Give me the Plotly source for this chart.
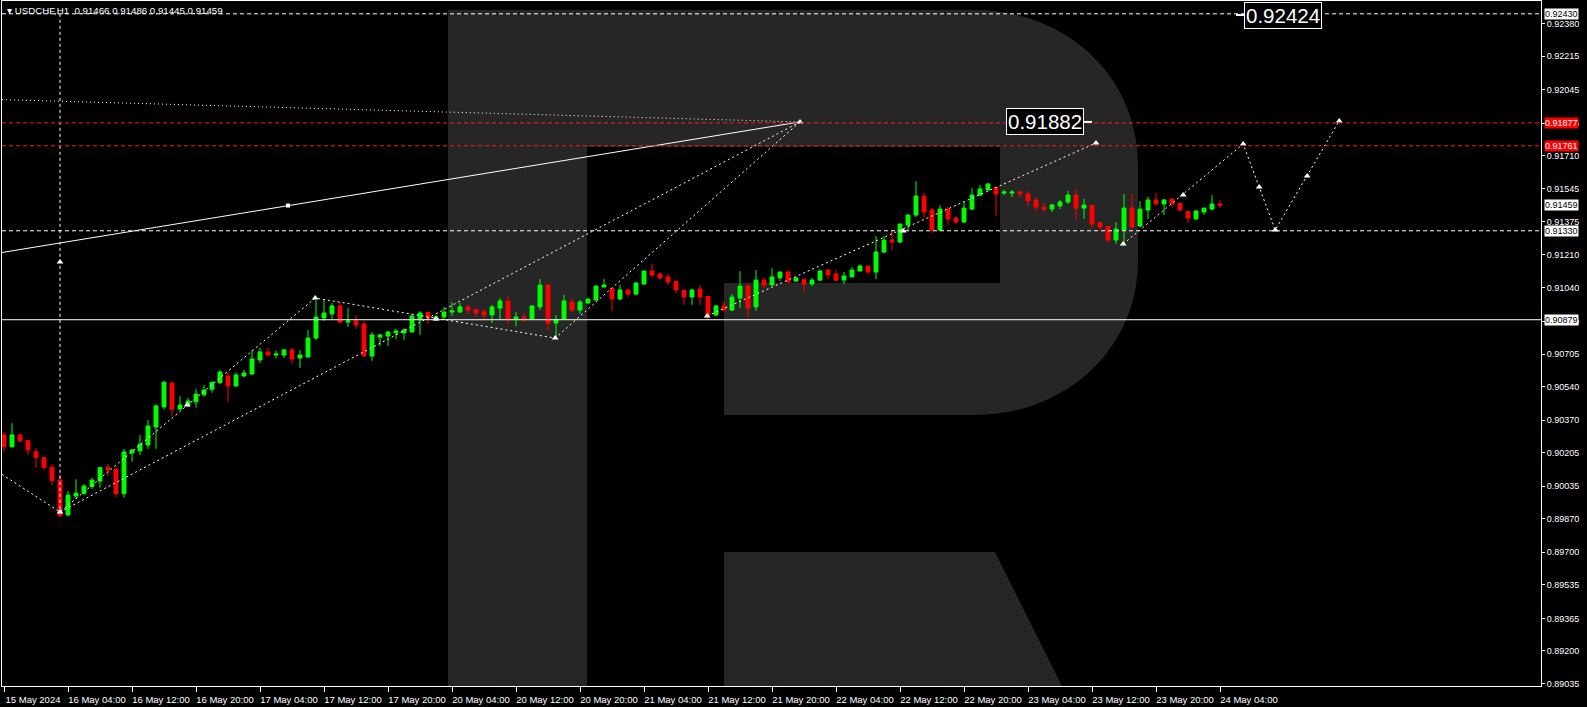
import plotly.graph_objects as go

# ---------------- data (USDCHF H1) ----------------
opens = [0.90295, 0.90235, 0.90295, 0.90266, 0.90210, 0.90180, 0.90131, 0.90066, 0.89889, 0.89985,
         0.89997, 0.90033, 0.90061, 0.90129, 0.90122, 0.89997, 0.90203, 0.90214, 0.90244, 0.90335,
         0.90437, 0.90557, 0.90426, 0.90443, 0.90463, 0.90499, 0.90526, 0.90560, 0.90594, 0.90543,
         0.90594, 0.90604, 0.90675, 0.90716, 0.90700, 0.90700, 0.90726, 0.90685, 0.90690, 0.90786,
         0.90888, 0.90908, 0.90949, 0.90867, 0.90873, 0.90857, 0.90695, 0.90791, 0.90796, 0.90812,
         0.90812, 0.90817, 0.90878, 0.90916, 0.90878, 0.90893, 0.90918, 0.90918, 0.90944, 0.90931,
         0.90920, 0.90903, 0.90938, 0.90974, 0.90883, 0.90893, 0.90883, 0.90944, 0.91055, 0.90862,
         0.90883, 0.90969, 0.90928, 0.90964, 0.90979, 0.91045, 0.91038, 0.90984, 0.91030, 0.91009,
         0.91060, 0.91126, 0.91111, 0.91096, 0.91073, 0.91028, 0.90994, 0.91035, 0.90997, 0.90903,
         0.90949, 0.90928, 0.90989, 0.91050, 0.90944, 0.91080, 0.91055, 0.91091, 0.91121, 0.91075,
         0.91083, 0.91060, 0.91080, 0.91131, 0.91111, 0.91080, 0.91096, 0.91126, 0.91151, 0.91121,
         0.91222, 0.91283, 0.91273, 0.91359, 0.91410, 0.91506, 0.91435, 0.91334, 0.91440, 0.91395,
         0.91374, 0.91440, 0.91511, 0.91537, 0.91550, 0.91521, 0.91521, 0.91527, 0.91516, 0.91486,
         0.91450, 0.91440, 0.91456, 0.91476, 0.91511, 0.91445, 0.91459, 0.91372, 0.91352, 0.91283,
         0.91334, 0.91445, 0.91354, 0.91435, 0.91486, 0.91466, 0.91491, 0.91469, 0.91428, 0.91390,
         0.91425, 0.91440, 0.91466]
highs = [0.90311, 0.90354, 0.90300, 0.90269, 0.90227, 0.90182, 0.90146, 0.90097, 0.90011, 0.90070,
         0.90046, 0.90078, 0.90132, 0.90148, 0.90124, 0.90224, 0.90221, 0.90295, 0.90371, 0.90450,
         0.90568, 0.90568, 0.90492, 0.90482, 0.90528, 0.90548, 0.90565, 0.90624, 0.90614, 0.90611,
         0.90624, 0.90726, 0.90736, 0.90736, 0.90721, 0.90731, 0.90736, 0.90726, 0.90827, 0.90979,
         0.90979, 0.90964, 0.90969, 0.90938, 0.90903, 0.90873, 0.90817, 0.90807, 0.90822, 0.90832,
         0.90837, 0.90908, 0.90923, 0.90918, 0.90903, 0.90944, 0.90969, 0.90964, 0.90954, 0.90933,
         0.90933, 0.90954, 0.90989, 0.90999, 0.90918, 0.90913, 0.90951, 0.91085, 0.91058, 0.90903,
         0.91004, 0.90989, 0.90979, 0.90986, 0.91052, 0.91085, 0.91040, 0.91055, 0.91035, 0.91070,
         0.91128, 0.91161, 0.91116, 0.91111, 0.91075, 0.91030, 0.91035, 0.91055, 0.90999, 0.90954,
         0.90974, 0.91009, 0.91126, 0.91065, 0.91131, 0.91091, 0.91141, 0.91123, 0.91131, 0.91096,
         0.91085, 0.91091, 0.91131, 0.91136, 0.91131, 0.91121, 0.91146, 0.91161, 0.91153, 0.91303,
         0.91303, 0.91334, 0.91366, 0.91412, 0.91582, 0.91521, 0.91445, 0.91461, 0.91450, 0.91405,
         0.91476, 0.91547, 0.91562, 0.91572, 0.91552, 0.91537, 0.91537, 0.91532, 0.91532, 0.91501,
         0.91471, 0.91466, 0.91486, 0.91532, 0.91542, 0.91491, 0.91461, 0.91374, 0.91354, 0.91374,
         0.91516, 0.91516, 0.91481, 0.91501, 0.91521, 0.91491, 0.91496, 0.91471, 0.91430, 0.91435,
         0.91447, 0.91511, 0.91486]
lows = [0.90210, 0.90230, 0.90255, 0.90193, 0.90129, 0.90121, 0.90041, 0.89880, 0.89886, 0.89969,
        0.89995, 0.90021, 0.90027, 0.90087, 0.89980, 0.89977, 0.90159, 0.90193, 0.90224, 0.90224,
        0.90425, 0.90392, 0.90421, 0.90438, 0.90433, 0.90487, 0.90509, 0.90553, 0.90462, 0.90540,
        0.90589, 0.90599, 0.90660, 0.90695, 0.90685, 0.90685, 0.90655, 0.90634, 0.90688, 0.90776,
        0.90873, 0.90883, 0.90862, 0.90842, 0.90832, 0.90692, 0.90670, 0.90746, 0.90746, 0.90781,
        0.90776, 0.90815, 0.90802, 0.90857, 0.90873, 0.90878, 0.90898, 0.90916, 0.90908, 0.90893,
        0.90883, 0.90862, 0.90883, 0.90857, 0.90847, 0.90862, 0.90878, 0.90928, 0.90827, 0.90786,
        0.90878, 0.90918, 0.90908, 0.90959, 0.90977, 0.91043, 0.90923, 0.90979, 0.90994, 0.91004,
        0.91058, 0.91096, 0.91080, 0.91055, 0.91014, 0.90954, 0.90954, 0.90954, 0.90878, 0.90898,
        0.90923, 0.90923, 0.90938, 0.90893, 0.90923, 0.91040, 0.91053, 0.91075, 0.91065, 0.91070,
        0.91020, 0.91050, 0.91075, 0.91085, 0.91075, 0.91060, 0.91094, 0.91124, 0.91111, 0.91085,
        0.91217, 0.91233, 0.91268, 0.91329, 0.91400, 0.91395, 0.91319, 0.91329, 0.91359, 0.91364,
        0.91369, 0.91435, 0.91506, 0.91532, 0.91405, 0.91511, 0.91501, 0.91496, 0.91456, 0.91430,
        0.91425, 0.91425, 0.91440, 0.91466, 0.91385, 0.91390, 0.91349, 0.91334, 0.91273, 0.91263,
        0.91268, 0.91339, 0.91349, 0.91390, 0.91461, 0.91410, 0.91450, 0.91433, 0.91369, 0.91385,
        0.91410, 0.91435, 0.91445]
closes = [0.90235, 0.90295, 0.90265, 0.90219, 0.90180, 0.90129, 0.90063, 0.89885, 0.89990, 0.90000,
          0.90036, 0.90066, 0.90129, 0.90117, 0.89997, 0.90208, 0.90219, 0.90249, 0.90340, 0.90442,
          0.90562, 0.90425, 0.90447, 0.90467, 0.90502, 0.90523, 0.90562, 0.90614, 0.90543, 0.90599,
          0.90609, 0.90680, 0.90716, 0.90700, 0.90705, 0.90726, 0.90680, 0.90700, 0.90786, 0.90893,
          0.90913, 0.90949, 0.90867, 0.90873, 0.90852, 0.90695, 0.90802, 0.90802, 0.90817, 0.90822,
          0.90827, 0.90898, 0.90913, 0.90888, 0.90893, 0.90918, 0.90925, 0.90945, 0.90928, 0.90913,
          0.90903, 0.90944, 0.90974, 0.90883, 0.90893, 0.90883, 0.90949, 0.91055, 0.90862, 0.90878,
          0.90974, 0.90928, 0.90969, 0.90984, 0.91050, 0.91055, 0.90984, 0.91030, 0.91009, 0.91065,
          0.91126, 0.91106, 0.91091, 0.91070, 0.91030, 0.90994, 0.91030, 0.90994, 0.90903, 0.90949,
          0.90928, 0.90994, 0.91050, 0.90938, 0.91080, 0.91055, 0.91096, 0.91121, 0.91070, 0.91091,
          0.91060, 0.91080, 0.91126, 0.91106, 0.91080, 0.91101, 0.91131, 0.91151, 0.91121, 0.91222,
          0.91283, 0.91273, 0.91364, 0.91410, 0.91506, 0.91425, 0.91334, 0.91440, 0.91390, 0.91374,
          0.91445, 0.91511, 0.91542, 0.91567, 0.91516, 0.91527, 0.91527, 0.91516, 0.91481, 0.91450,
          0.91440, 0.91461, 0.91476, 0.91511, 0.91445, 0.91461, 0.91364, 0.91349, 0.91283, 0.91339,
          0.91445, 0.91349, 0.91440, 0.91486, 0.91466, 0.91486, 0.91466, 0.91435, 0.91395, 0.91430,
          0.91445, 0.91466, 0.91459]

# x tick labels, one every 8 bars
time_labels = ["15 May 2024", "16 May 04:00", "16 May 12:00", "16 May 20:00", "17 May 04:00",
               "17 May 12:00", "17 May 20:00", "20 May 04:00", "20 May 12:00", "20 May 20:00",
               "21 May 04:00", "21 May 12:00", "21 May 20:00", "22 May 04:00", "22 May 12:00",
               "22 May 20:00", "23 May 04:00", "23 May 12:00", "23 May 20:00", "24 May 04:00"]
bars_per_label = 8

# price scale labels
price_ticks = ["0.92380", "0.92215", "0.92045", "0.91875", "0.91710", "0.91545", "0.91375",
               "0.91210", "0.91040", "0.90870", "0.90705", "0.90540", "0.90370", "0.90205",
               "0.90035", "0.89870", "0.89700", "0.89535", "0.89365", "0.89200", "0.89035"]

# horizontal levels
red_levels = [0.91877, 0.91761]
white_dash_levels = [0.92430, 0.91330]
white_solid_levels = [0.90879]
current_price = 0.91459

# forecast / analysis drawings: (bar index, price)
solid_trend = [(-0.25, 0.91220), (99.5, 0.91882)]
solid_trend_mark = [(35.5, 0.91458)]
dotted_flat = [(-0.25, 0.91995), (99.5, 0.91882)]
vertical_line = [(7, 0.92430), (7, 0.89904)]
dashed_paths = [
    [(-0.25, 0.90095), (7, 0.89904), (38.9, 0.90989), (68.9, 0.90786), (99.5, 0.91882)],
    [(7, 0.89904), (99.5, 0.91882)],
    [(87.9, 0.90898), (136.5, 0.91775)],
    [(139.9, 0.91263), (154.9, 0.91770), (158.9, 0.91334), (166.9, 0.91887)],
]
arrow_marks = [(7, 0.91172), (7, 0.89904), (22.9, 0.90447), (38.9, 0.90989), (54, 0.90883),
               (68.9, 0.90786), (87.9, 0.90898), (99.5, 0.91882), (112.4, 0.91329),
               (136.5, 0.91775), (139.9, 0.91263), (147.4, 0.91511), (154.9, 0.91770),
               (156.9, 0.91552), (158.9, 0.91334), (162.9, 0.91608), (166.9, 0.91887)]
# price labels: (bar index of centre, price, text, connector start/end bar index)
big_labels = [(130.1, 0.91882, "0.91882", (134.8, 136.0)), (159.9, 0.92424, "0.92424", (154.0, 155.3))]

title_text = "▾ USDCHF,H1  0.91466 0.91486 0.91445 0.91459"

# ---------------- figure ----------------
W, H = 1587, 707
ML, MR, MT, MB = 2, 46, 1, 21
FONT = "Liberation Sans, Arial, sans-serif"

n = len(opens)
bar_x = list(range(n))

fig = go.Figure()
fig.add_trace(go.Candlestick(
    x=bar_x, open=opens, high=highs, low=lows, close=closes,
    increasing=dict(line=dict(color="#00ff00", width=1), fillcolor="#00ff00"),
    decreasing=dict(line=dict(color="#ff0000", width=1), fillcolor="#ff0000"),
    whiskerwidth=0, showlegend=False, hoverinfo="skip"))

def add_line(pts, dash, width=1):
    fig.add_trace(go.Scatter(x=[p[0] for p in pts], y=[p[1] for p in pts], mode="lines",
                             line=dict(color="white", width=width, dash=dash),
                             showlegend=False, hoverinfo="skip"))

add_line(solid_trend, "solid")
add_line(dotted_flat, "1px,3px")
add_line(vertical_line, "3px,3px")
for path in dashed_paths:
    add_line(path, "2px,3px")

fig.add_trace(go.Scatter(x=[p[0] for p in arrow_marks], y=[p[1] for p in arrow_marks],
                         mode="markers", marker=dict(symbol="triangle-up", size=6, color="white"),
                         showlegend=False, hoverinfo="skip"))
fig.add_trace(go.Scatter(x=[p[0] for p in solid_trend_mark], y=[p[1] for p in solid_trend_mark],
                         mode="markers", marker=dict(symbol="square", size=4, color="white"),
                         showlegend=False, hoverinfo="skip"))

shapes = []
for lv in red_levels:
    shapes.append(dict(type="line", xref="paper", x0=0, x1=1, yref="y", y0=lv, y1=lv,
                       line=dict(color="#ff1a1a", width=1, dash="4px,3px")))
for lv in white_dash_levels:
    shapes.append(dict(type="line", xref="paper", x0=0, x1=1, yref="y", y0=lv, y1=lv,
                       line=dict(color="white", width=1, dash="4px,3px")))
for lv in white_solid_levels:
    shapes.append(dict(type="line", xref="paper", x0=0, x1=1, yref="y", y0=lv, y1=lv,
                       line=dict(color="white", width=1)))
for bx, by, bt, (c0, c1) in big_labels:
    shapes.append(dict(type="line", xref="x", yref="y", x0=c0, x1=c1, y0=by, y1=by,
                       line=dict(color="white", width=2)))

# watermark "R" (decoration, pixel geometry -> paper)
PW, PH = W - ML - MR, H - MT - MB
def P(px, py):
    return f"{(px - ML) / PW:.5f},{(H - MB - py) / PH:.5f}"

r_body = ("M " + P(448, 10) + " L " + P(975, 10) + " C " + P(1065, 10) + " " + P(1138, 75) + " " + P(1138, 165) +
          " L " + P(1138, 260) + " C " + P(1138, 350) + " " + P(1065, 415) + " " + P(975, 415) +
          " L " + P(724, 415) + " L " + P(724, 283) + " L " + P(1000, 283) + " L " + P(1000, 147) +
          " L " + P(587, 147) + " L " + P(587, 686) + " L " + P(448, 686) + " Z")
r_leg = "M " + P(724, 552) + " L " + P(995, 552) + " L " + P(1062, 686) + " L " + P(724, 686) + " Z"
for pth in (r_body, r_leg):
    shapes.append(dict(type="path", xref="paper", yref="paper", path=pth,
                       fillcolor="#262626", line=dict(width=0), layer="below"))

annotations = []
annotations.append(dict(xref="paper", yref="paper", x=0, y=1, xanchor="left", yanchor="top",
                        xshift=3, yshift=-2, text=title_text, showarrow=False,
                        font=dict(family=FONT, size=9.7, color="white")))
for bx, by, bt, _ in big_labels:
    annotations.append(dict(xref="x", yref="y", x=bx, y=by, text=bt, showarrow=False,
                            font=dict(family=FONT, size=20.5, color="white"),
                            bgcolor="black", bordercolor="white", borderwidth=1, borderpad=1))

def axis_box(price, bg, fg):
    annotations.append(dict(xref="paper", yref="y", x=1, y=price, xanchor="left", yanchor="middle",
                            xshift=3, text=f"{price:.5f}", showarrow=False,
                            font=dict(family=FONT, size=9, color=fg),
                            bgcolor=bg, borderpad=0))

axis_box(white_dash_levels[0], "white", "black")
for lv in red_levels:
    axis_box(lv, "#ff0000", "white")
axis_box(current_price, "white", "black")
axis_box(white_dash_levels[1], "white", "black")
axis_box(white_solid_levels[0], "white", "black")

fig.update_layout(
    width=W, height=H,
    margin=dict(l=ML, r=MR, t=MT, b=MB, pad=0),
    paper_bgcolor="black", plot_bgcolor="rgba(0,0,0,0)",
    showlegend=False, hovermode=False,
    shapes=shapes, annotations=annotations,
    font=dict(family=FONT, size=9, color="white"),
    xaxis=dict(range=[-0.25, 192.125], rangeslider=dict(visible=False),
               tickvals=[bars_per_label * k for k in range(len(time_labels))],
               ticktext=time_labels, ticks="outside", ticklen=5, tickcolor="white",
               ticklabelshift=29, ticklabelstandoff=0,
               showline=True, mirror=True, linecolor="white", linewidth=1,
               showgrid=False, zeroline=False, automargin=False,
               tickfont=dict(family=FONT, size=9.5, color="white")),
    yaxis=dict(range=[0.89022, 0.92495], side="right",
               tickvals=[float(t) for t in price_ticks], ticktext=price_ticks,
               ticks="outside", ticklen=3, tickcolor="white",
               showline=True, mirror=True, linecolor="white", linewidth=1,
               showgrid=False, zeroline=False, automargin=False,
               tickfont=dict(family=FONT, size=9, color="white")),
)

fig.write_html("out.html", config={"staticPlot": True},
               post_script="document.body.style.margin='0px';document.body.style.background='black';")
